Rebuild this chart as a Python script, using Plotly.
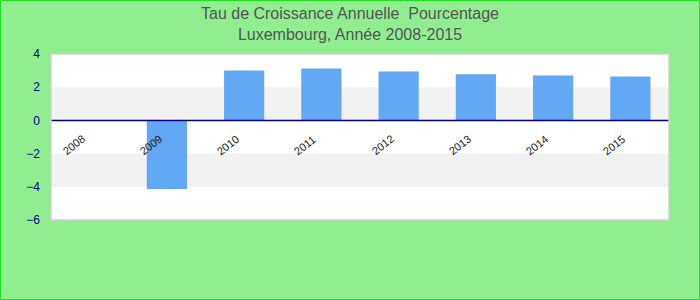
import plotly.graph_objects as go

years = ["2008", "2009", "2010", "2011", "2012", "2013", "2014", "2015"]
growth = [0.0, -4.14, 3.0, 3.13, 2.95, 2.78, 2.71, 2.65]
y_ticks = [-6, -4, -2, 0, 2, 4]

W, H = 700, 300
L, R, T, B = 51, 31, 54, 80
pw, ph = W - L - R, H - T - B

fig = go.Figure()
fig.add_trace(go.Bar(x=years, y=growth, marker=dict(color="#62A8F4", line=dict(width=0)),
                     hoverinfo="x+y"))

shapes = []
# alternating bands
for i in range(len(y_ticks) - 1):
    if i % 2 == 1:
        shapes.append(dict(type="rect", xref="paper", yref="y", x0=0, x1=1,
                           y0=y_ticks[i], y1=y_ticks[i + 1], fillcolor="#F2F2F2",
                           line=dict(width=0), layer="below"))
# zero line
shapes.append(dict(type="line", xref="paper", yref="y", x0=0, x1=1, y0=0, y1=0,
                   line=dict(color="#00008B", width=1.5), layer="above"))
# plot border
shapes.append(dict(type="rect", xref="paper", yref="paper", x0=0, x1=1, y0=0, y1=1,
                   line=dict(color="#D0D0D0", width=1.5), layer="above"))
# outer figure border
shapes.append(dict(type="rect", xref="paper", yref="paper",
                   x0=-(L - 0.5) / pw, x1=1 + (R - 0.5) / pw,
                   y0=-(B - 0.5) / ph, y1=1 + (T - 0.5) / ph,
                   line=dict(color="#22DD22", width=1)))

annotations = []
for i, yr in enumerate(years):
    annotations.append(dict(x=i, y=0, xref="x", yref="y", text=yr, showarrow=False,
                            textangle=-38, xshift=-16, yshift=-25,
                            font=dict(family="Liberation Sans, Arial", size=11, color="#222222")))

fig.update_layout(
    width=W, height=H,
    margin=dict(l=L, r=R, t=T, b=B),
    paper_bgcolor="#90EE90",
    plot_bgcolor="#FFFFFF",
    showlegend=False,
    bargap=0.48,
    title=dict(text="Tau de Croissance Annuelle  Pourcentage<br>Luxembourg, Année 2008-2015",
               x=0.5, xanchor="center", xref="container", y=1 - 19 / H, yref="container",
               yanchor="middle",
               font=dict(family="Liberation Sans, Arial", size=16, color="#555555")),
    xaxis=dict(type="category", range=[-0.5, len(years) - 0.5], autorange=False,
               showticklabels=False, showgrid=False, zeroline=False,
               ticks="", showline=False),
    yaxis=dict(range=[-6, 4], autorange=False, tickvals=y_ticks, showgrid=False, zeroline=False,
               ticks="", showline=False, ticklabelstandoff=10,
               tickfont=dict(family="Liberation Sans, Arial", size=12, color="#00008B")),
    shapes=shapes,
    annotations=annotations,
)

fig.write_html("out.html")
